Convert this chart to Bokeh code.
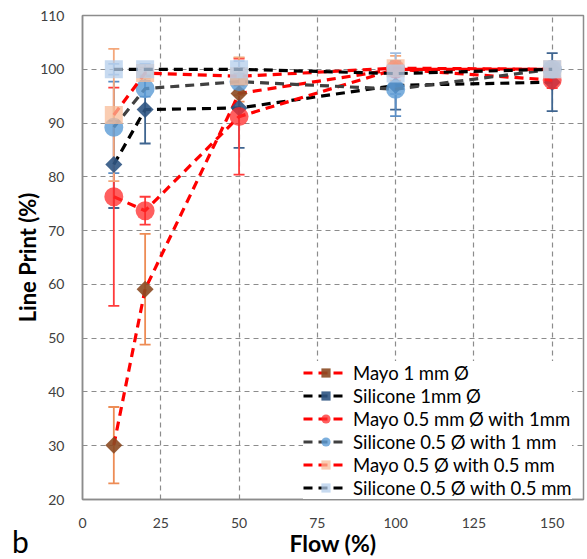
import math
from bokeh.plotting import figure
from bokeh.layouts import column
from bokeh.models import (ColumnDataSource, Whisker, Legend, LegendItem, Div,
                          Range1d, FixedTicker, TeeHead)
from bokeh.embed import file_html
from bokeh.resources import INLINE

# ---------------- data ----------------
flow = [10, 20, 50, 100, 150]
x_ticks = [0, 25, 50, 75, 100, 125, 150]
y_ticks = [20, 30, 40, 50, 60, 70, 80, 90, 100, 110]

labels = [
    "Mayo 1 mm Ø",
    "Silicone 1mm Ø",
    "Mayo 0.5 mm Ø with 1mm",
    "Silicone 0.5 Ø with 1 mm",
    "Mayo 0.5 Ø with 0.5 mm",
    "Silicone 0.5 Ø with 0.5 mm",
]
panel_letter = "b"

mayo_1mm = [30.1, 59.1, 95.5, 100.0, 100.0]
mayo_1mm_err = [7.1, 10.3, 1.5, 1.0, 1.0]

silicone_1mm = [82.3, 92.5, 92.8, 97.0, 97.6]
silicone_1mm_err = [8.1, 6.3, 7.4, 4.5, 5.4]

mayo_05_1mm = [76.3, 73.7, 91.2, 100.0, 98.0]
mayo_05_1mm_err = [20.3, 2.6, 10.8, 1.0, 1.5]

silicone_05_1mm = [89.2, 96.4, 97.7, 96.3, 100.0]
silicone_05_1mm_err = [8.5, 1.5, 1.5, 5.0, 1.0]

mayo_05_05mm = [91.5, 99.3, 98.7, 100.2, 100.0]
mayo_05_05mm_err = [12.3, 1.0, 3.5, 2.3, 1.0]

silicone_05_05mm = [100.0, 100.0, 100.0, 99.2, 100.0]
silicone_05_05mm_err = [1.0, 1.0, 1.5, 3.8, 1.0]

values = [mayo_1mm, silicone_1mm, mayo_05_1mm, silicone_05_1mm, mayo_05_05mm, silicone_05_05mm]
errors = [mayo_1mm_err, silicone_1mm_err, mayo_05_1mm_err, silicone_05_1mm_err,
          mayo_05_05mm_err, silicone_05_05mm_err]

# ---------------- styles ----------------
styles = [
    dict(line="#FF0000", marker="square", angle=math.pi / 4, size=12, fill="#8B4A22", alpha=0.9, err="#ED8C55"),
    dict(line="#000000", marker="square", angle=math.pi / 4, size=12, fill="#2F5583", alpha=0.9, err="#3F6590"),
    dict(line="#FF0000", marker="circle", angle=0, size=19, fill="#FF2A2A", alpha=0.75, err="#FF3B3B"),
    dict(line="#404040", marker="circle", angle=0, size=19, fill="#5B9BD5", alpha=0.8, err="#5B8EC5"),
    dict(line="#FF0000", marker="square", angle=0, size=18, fill="#F8BC98", alpha=0.75, err="#F4A77A"),
    dict(line="#000000", marker="square", angle=0, size=18, fill="#B4CDEB", alpha=0.75, err="#9FBDE0"),
]

FONT = "Lato"

p = figure(width=587, height=559, output_backend="svg", toolbar_location=None,
           x_range=Range1d(0, 160), y_range=Range1d(20, 110),
           min_border_left=82, min_border_right=4, min_border_top=15, min_border_bottom=60)

p.background_fill_color = "white"
p.border_fill_color = "white"
p.outline_line_color = "#8C8C8C"
p.outline_line_width = 1.5

# grid
p.xgrid.ticker = FixedTicker(ticks=x_ticks)
p.ygrid.ticker = FixedTicker(ticks=y_ticks)
for g in (p.xgrid, p.ygrid):
    g.grid_line_color = "#8C8C8C"
    g.grid_line_dash = "5 4"
    g.grid_line_width = 1.2

# axes
for ax in (p.xaxis, p.yaxis):
    ax.axis_line_color = "#8C8C8C"
    ax.axis_line_width = 1.5
    ax.major_tick_line_color = None
    ax.minor_tick_line_color = None
    ax.major_label_text_font = FONT
    ax.major_label_text_font_size = "14px"
    ax.major_label_text_color = "#404040"
    ax.axis_label_text_font = FONT
    ax.axis_label_text_font_style = "bold"
    ax.axis_label_text_color = "#000000"

p.xaxis.axis_label_text_font_size = "23px"
p.yaxis.axis_label_text_font_size = "22px"
p.xaxis.ticker = FixedTicker(ticks=x_ticks)
p.yaxis.ticker = FixedTicker(ticks=y_ticks)
p.xaxis.major_label_standoff = 12
p.yaxis.major_label_standoff = 12
p.xaxis.axis_label = "Flow (%)"
p.yaxis.axis_label = "Line Print (%)"
p.xaxis.axis_label_standoff = -2
p.yaxis.axis_label_standoff = -4

items = []
for name, vals, errs, st in zip(labels, values, errors, styles):
    src = ColumnDataSource(dict(
        x=flow, y=vals,
        lower=[v - e for v, e in zip(vals, errs)],
        upper=[v + e for v, e in zip(vals, errs)],
    ))
    w = Whisker(source=src, base="x", lower="lower", upper="upper",
                line_color=st["err"], line_width=1.8,
                upper_head=TeeHead(size=11, line_color=st["err"], line_width=1.8),
                lower_head=TeeHead(size=11, line_color=st["err"], line_width=1.8))
    p.add_layout(w)
    rl = p.line("x", "y", source=src, line_color=st["line"], line_width=3.2, line_dash="9 6")
    rs = p.scatter("x", "y", source=src, marker=st["marker"], size=st["size"], angle=st["angle"],
                   fill_color=st["fill"], fill_alpha=st["alpha"], line_color=None)
    items.append(LegendItem(label=name, renderers=[rl, rs]))

legend = Legend(items=items, location=(221, 0))
legend.label_text_font = FONT
legend.label_text_font_size = "18.5px"
legend.label_text_color = "#000000"
legend.border_line_color = None
legend.background_fill_color = "white"
legend.background_fill_alpha = 1.0
legend.glyph_width = 45
legend.glyph_height = 23
legend.label_height = 23
legend.spacing = 0
legend.padding = 4
legend.margin = 0
legend.label_standoff = 5
p.add_layout(legend)

# panel letter below-left of the chart, overlapping the bottom border area
letter = Div(text=panel_letter, width=30, height=30, margin=(-33, 0, 0, 12),
             styles={"font-family": "Lato", "font-size": "30px", "line-height": "30px",
                     "color": "#000000"})

layout = column(p, letter, spacing=0)

open("out.html", "w").write(file_html(layout, INLINE))
